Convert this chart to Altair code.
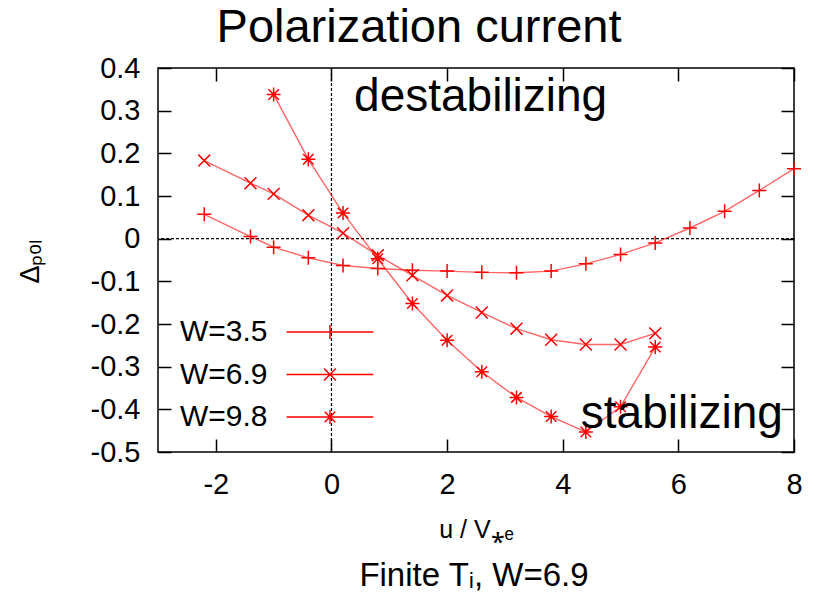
import altair as alt
import pandas as pd

FONT = "Liberation Sans"

# ---- data ----
series_names = ["W=3.5", "W=6.9", "W=9.8"]

x_w35 = [-2.2, -1.4, -1.0, -0.4, 0.2, 0.8, 1.4, 2.0, 2.6, 3.2, 3.8, 4.4, 5.0, 5.6, 6.2, 6.8, 7.4, 8.0]
y_w35 = [0.057, 0.005, -0.020, -0.045, -0.063, -0.070, -0.074, -0.076, -0.079, -0.080, -0.076, -0.059,
         -0.037, -0.010, 0.025, 0.064, 0.113, 0.164]

x_w69 = [-2.2, -1.4, -1.0, -0.4, 0.2, 0.8, 1.4, 2.0, 2.6, 3.2, 3.8, 4.4, 5.0, 5.6]
y_w69 = [0.183, 0.130, 0.105, 0.055, 0.013, -0.039, -0.086, -0.133, -0.173, -0.211, -0.237, -0.248,
         -0.248, -0.222]

x_w98 = [-1.0, -0.4, 0.2, 0.8, 1.4, 2.0, 2.6, 3.2, 3.8, 4.4, 5.0, 5.6]
y_w98 = [0.338, 0.186, 0.060, -0.047, -0.152, -0.238, -0.312, -0.372, -0.417, -0.453, -0.394, -0.254]

x_ticks = [-2, 0, 2, 4, 6, 8]
y_ticks = [-0.5, -0.4, -0.3, -0.2, -0.1, 0, 0.1, 0.2, 0.3, 0.4]
x_domain = [-3, 8]
y_domain = [-0.5, 0.4]
zero_line = [0]

title_text = ["Polarization current"]
x_title = "u / V\u204e\u2091"
y_title = "\u0394\u209a\u2092\u2097"
caption_text = ["Finite T\u1d62, W=6.9"]

ann_text = ["destabilizing", "stabilizing"]
ann_x = [2.58, 6.06]
ann_y = [0.30, -0.444]

# ---- styles: marker glyphs as line segments in unit coordinates ----
marker_segments = [
    [(-1, 0, 1, 0), (0, -1, 0, 1)],                                   # plus
    [(-0.85, -0.85, 0.85, 0.85), (-0.85, 0.85, 0.85, -0.85)],         # cross
    [(-1, 0, 1, 0), (0, -1, 0, 1),
     (-0.75, -0.75, 0.75, 0.75), (-0.75, 0.75, 0.75, -0.75)],         # asterisk
]
LEGEND_SHIFT = 23.57      # moves the legend sample to the right of its label
LEGEND_HALF_LINE = 6.2


def seg_path(segs, dx=0.0):
    return "".join("M%.3f,%.3fL%.3f,%.3f" % (a + dx, b, c + dx, d) for a, b, c, d in segs)


marker_paths = [seg_path(s) for s in marker_segments]
legend_paths = [
    seg_path([(-LEGEND_HALF_LINE, 0, LEGEND_HALF_LINE, 0)] + s, LEGEND_SHIFT) for s in marker_segments
]

rows = []
for name, xs_, ys_ in zip(series_names, [x_w35, x_w69, x_w98], [y_w35, y_w69, y_w98]):
    for i, (a, b) in enumerate(zip(xs_, ys_)):
        rows.append({"series": name, "x": a, "y": b, "idx": i})
df = pd.DataFrame(rows)

W, H = 636, 384
PAD_L, PAD_T = 158, 68

xs = alt.Scale(domain=x_domain, nice=False, zero=False)
ys = alt.Scale(domain=y_domain, nice=False, zero=False)

minus_fix = "replace(datum.label, '\u2212', '-')"

x_axis_bottom = alt.Axis(
    orient="bottom", values=x_ticks, offset=-13, tickSize=13, tickColor="black", tickWidth=1.5,
    domain=False, grid=False, labelPadding=18, labelFont=FONT, labelFontSize=29, labelColor="black",
    labelFlush=False, labelOverlap=False, labelExpr=minus_fix, format="d",
    title=x_title, titleFont=FONT, titleFontSize=25, titleFontWeight="normal", titleColor="black",
    titleBaseline="alphabetic", titleY=98,
)
y_axis_left = alt.Axis(
    orient="left", values=y_ticks, offset=-13, tickSize=13, tickColor="black", tickWidth=1.5,
    domain=False, grid=False, labelPadding=18, labelFont=FONT, labelFontSize=29, labelColor="black",
    labelFlush=False, labelOverlap=False, format=".1~f", labelExpr=minus_fix,
    title=y_title, titleFont=FONT, titleFontSize=27, titleFontWeight="normal", titleColor="black",
    titleAngle=270, titleBaseline="alphabetic", titleAlign="center", titleX=-133, titleY=193,
)
x_axis_top = alt.Axis(
    orient="top", values=x_ticks, offset=-13, tickSize=13, tickColor="black", tickWidth=1.5,
    domain=False, grid=False, labels=False, title=None,
)
y_axis_right = alt.Axis(
    orient="right", values=y_ticks, offset=-13, tickSize=13, tickColor="black", tickWidth=1.5,
    domain=False, grid=False, labels=False, title=None,
)

legend = alt.Legend(
    title=None, orient="none", legendX=-8, legendY=249, padding=0,
    labelFont=FONT, labelFontSize=30, labelColor="black", labelOffset=0, labelLimit=0,
    symbolOffset=0, rowPadding=12.5, symbolSize=196, symbolStrokeWidth=1.5,
    symbolStrokeColor="#ff0000", symbolFillColor="transparent", symbolOpacity=1,
)

zero_df = pd.DataFrame({"v": zero_line})
vrule = alt.Chart(zero_df).mark_rule(color="black", strokeDash=[3, 2], strokeWidth=1.2).encode(
    x=alt.X("v:Q", scale=xs, axis=None))
hrule = alt.Chart(zero_df).mark_rule(color="black", strokeDash=[3, 2], strokeWidth=1.2).encode(
    y=alt.Y("v:Q", scale=ys, axis=None))

lines = alt.Chart(df).mark_line(color="#ff0000", strokeWidth=1.4, opacity=0.6).encode(
    x=alt.X("x:Q", scale=xs, axis=x_axis_bottom),
    y=alt.Y("y:Q", scale=ys, axis=y_axis_left),
    detail="series:N",
    order="idx:Q",
)

points = alt.Chart(df).mark_point(filled=False, color="#ff0000", strokeWidth=1.5, size=196, opacity=1).encode(
    x=alt.X("x:Q", scale=xs, axis=x_axis_top),
    y=alt.Y("y:Q", scale=ys, axis=y_axis_right),
    shape=alt.Shape("series:N", scale=alt.Scale(domain=series_names, range=marker_paths), legend=None),
)

legend_layer = alt.Chart(df).transform_filter("false").mark_point(
    filled=False, color="#ff0000", strokeWidth=1.5, size=196).encode(
    shape=alt.Shape("series:N", scale=alt.Scale(domain=series_names, range=legend_paths), legend=legend),
)

ann_df = pd.DataFrame({"t": ann_text, "x": ann_x, "y": ann_y})
ann = alt.Chart(ann_df).mark_text(font=FONT, fontSize=46, color="black", align="center",
                                  baseline="alphabetic").encode(
    x=alt.X("x:Q", scale=xs, axis=None),
    y=alt.Y("y:Q", scale=ys, axis=None),
    text="t:N",
)

title = alt.Chart(pd.DataFrame({"t": title_text})).mark_text(
    font=FONT, fontSize=47, color="black", align="center", baseline="alphabetic").encode(
    x=alt.value(261), y=alt.value(-26), text="t:N")

caption = alt.Chart(pd.DataFrame({"t": caption_text})).mark_text(
    font=FONT, fontSize=33, color="black", align="center", baseline="alphabetic").encode(
    x=alt.value(316), y=alt.value(518), text="t:N")

chart = alt.layer(hrule, vrule, lines, points, legend_layer, ann, title, caption).resolve_axis(
    x="independent", y="independent"
).resolve_scale(shape="independent").properties(
    width=W, height=H,
    padding={"left": PAD_L, "top": PAD_T, "right": 817 - PAD_L - W, "bottom": 594 - PAD_T - H},
    autosize=alt.AutoSizeParams(type="none"),
    background="white",
).configure_view(stroke="black", strokeWidth=1.5)

chart.save("out.html", embed_options={"renderer": "svg", "actions": False})
